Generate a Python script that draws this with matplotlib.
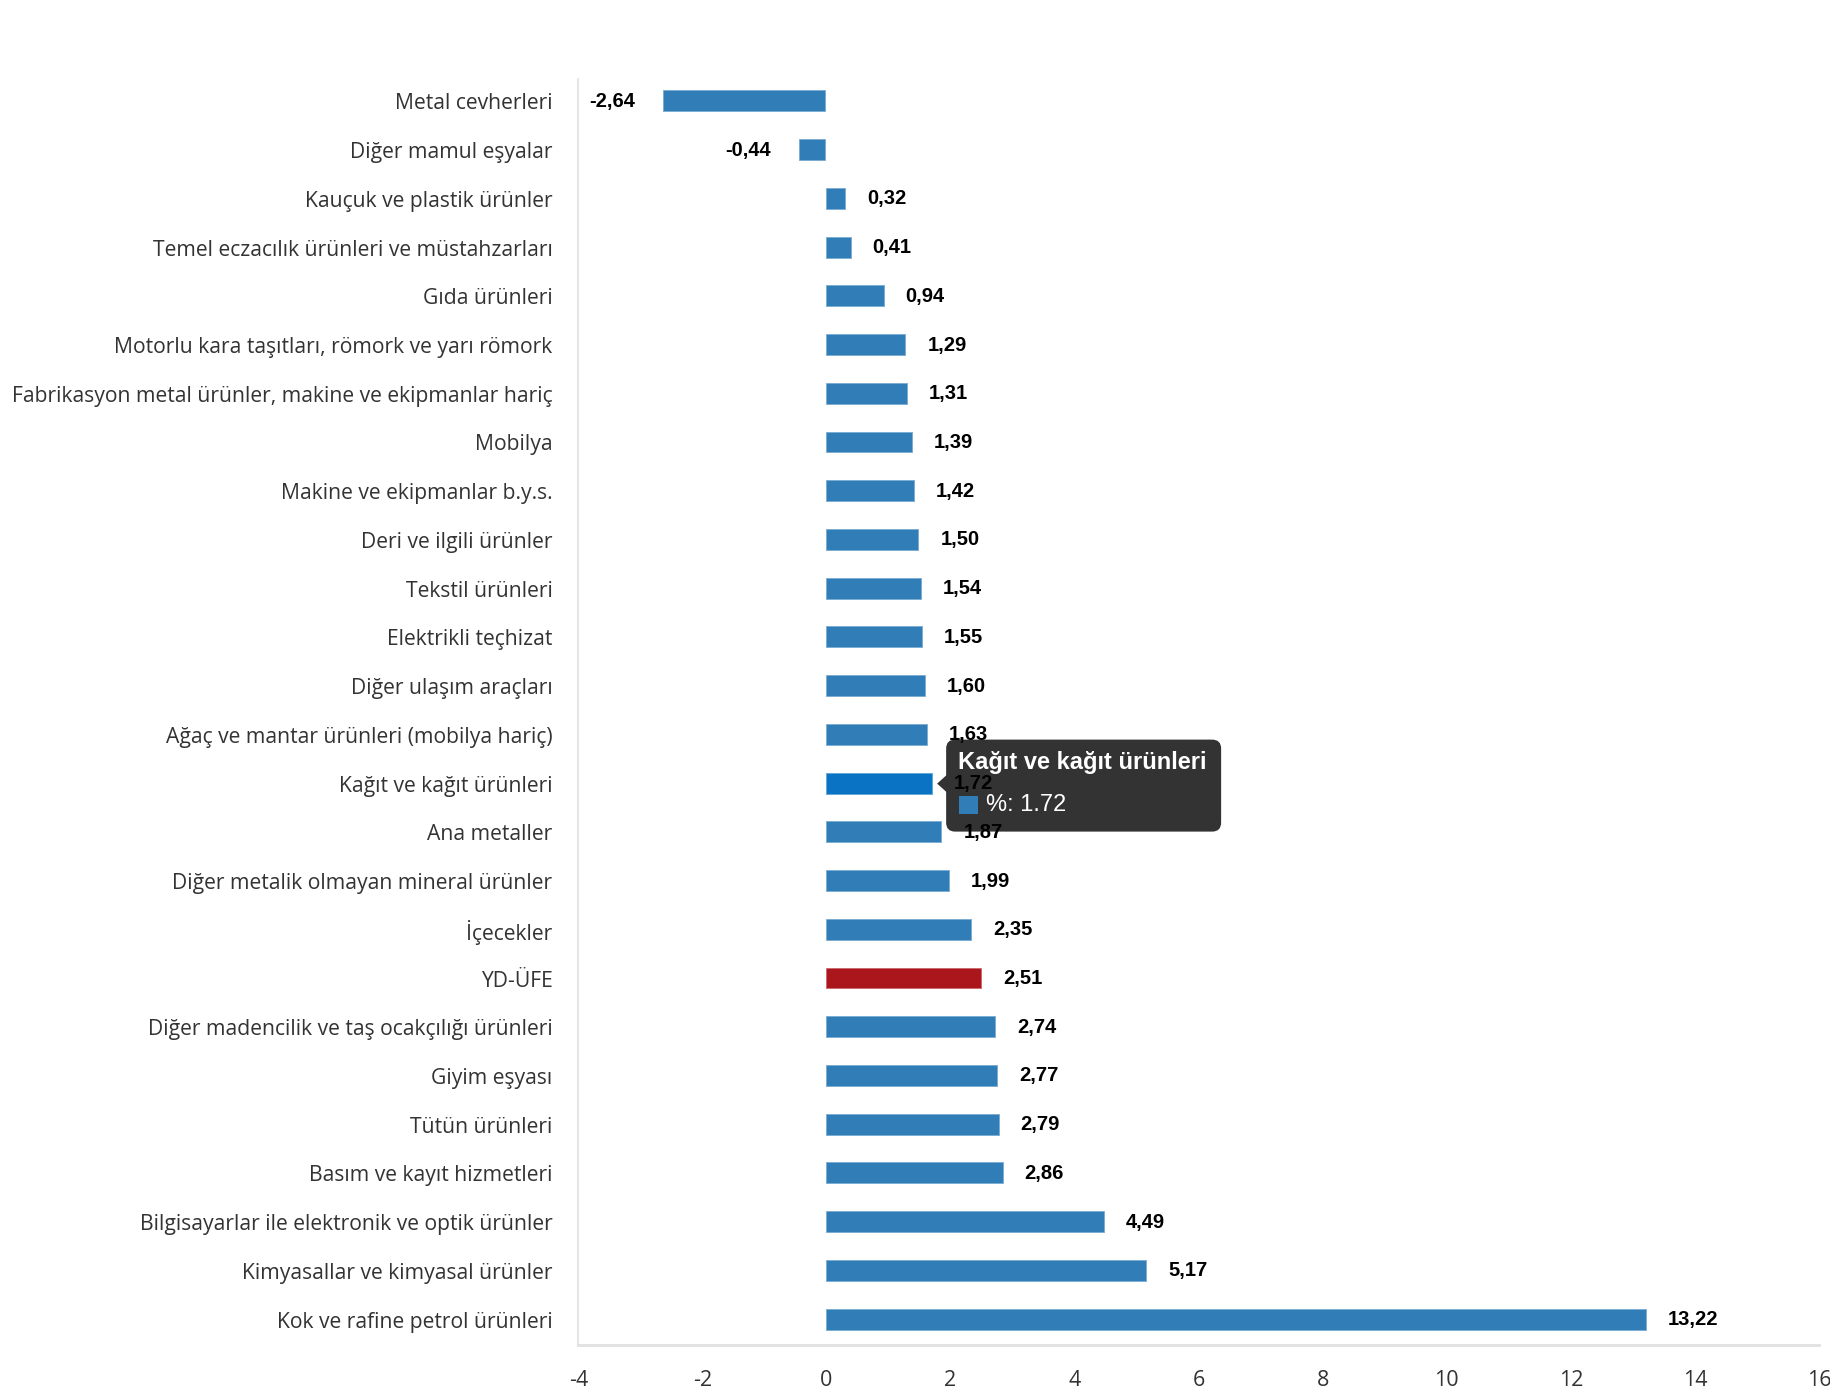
import matplotlib.pyplot as plt
import matplotlib.transforms as mtransforms
from matplotlib.patches import FancyBboxPatch, Polygon, Rectangle

# ===== Data (%) =====
categories = [
    "Metal cevherleri", "Diğer mamul eşyalar", "Kauçuk ve plastik ürünler",
    "Temel eczacılık ürünleri ve müstahzarları", "Gıda ürünleri",
    "Motorlu kara taşıtları, römork ve yarı römork",
    "Fabrikasyon metal ürünler, makine ve ekipmanlar hariç", "Mobilya",
    "Makine ve ekipmanlar b.y.s.", "Deri ve ilgili ürünler", "Tekstil ürünleri",
    "Elektrikli teçhizat", "Diğer ulaşım araçları",
    "Ağaç ve mantar ürünleri (mobilya hariç)", "Kağıt ve kağıt ürünleri",
    "Ana metaller", "Diğer metalik olmayan mineral ürünler", "İçecekler",
    "YD-ÜFE", "Diğer madencilik ve taş ocakçılığı ürünleri", "Giyim eşyası",
    "Tütün ürünleri", "Basım ve kayıt hizmetleri",
    "Bilgisayarlar ile elektronik ve optik ürünler",
    "Kimyasallar ve kimyasal ürünler", "Kok ve rafine petrol ürünleri",
]
values = [-2.64, -0.44, 0.32, 0.41, 0.94, 1.29, 1.31, 1.39, 1.42, 1.50, 1.54,
          1.55, 1.60, 1.63, 1.72, 1.87, 1.99, 2.35, 2.51, 2.74, 2.77, 2.79,
          2.86, 4.49, 5.17, 13.22]
x_ticks = [-4, -2, 0, 2, 4, 6, 8, 10, 12, 14, 16]

total_label = "YD-ÜFE"
hover_label = "Kağıt ve kağıt ürünleri"

# ===== Styling =====
blue = "#317db8"
red = "#ab151c"
hover_blue = "#0b73c3"
label_font = "Open Sans"
value_font = "Liberation Sans"

fig = plt.figure(figsize=(18.3, 14), dpi=100)
ax = fig.add_axes([0.316, 0.0393, 0.678, 0.9043])

colors = []
for c in categories:
    if c == total_label:
        colors.append(red)
    elif c == hover_label:
        colors.append(hover_blue)
    else:
        colors.append(blue)

y = list(range(len(categories)))
ax.barh(y, values, height=0.45, color=colors, edgecolor=(1, 1, 1, 0.45),
        linewidth=1.2, zorder=2)

ax.set_xlim(-4, 16)
ax.set_ylim(len(categories) - 0.48, -0.46)
ax.set_xticks(x_ticks)
ax.set_xticklabels([str(t) for t in x_ticks], fontname=label_font,
                   fontsize=15.5, color="#333333")
ax.set_yticks(y)
ax.set_yticklabels(categories, fontname=label_font, fontsize=15.2,
                   color="#333333")
ax.tick_params(axis="y", length=0, pad=18.5)
ax.tick_params(axis="x", length=0, pad=18)

for side in ["top", "right"]:
    ax.spines[side].set_visible(False)
ax.spines["left"].set_color("#e6e6e6")
ax.spines["bottom"].set_color("#e0e0e0")
ax.spines["left"].set_linewidth(1.5)
ax.spines["bottom"].set_linewidth(2)

# ===== Value labels =====
for yi, v in zip(y, values):
    txt = f"{v:.2f}".replace(".", ",")
    if v >= 0:
        ax.annotate(txt, (v, yi), xytext=(15, 0), textcoords="offset points",
                    ha="left", va="center", fontsize=14.5, fontweight="bold",
                    fontname=value_font, color="black", zorder=4,
                    annotation_clip=False)
    else:
        ax.annotate(txt, (v, yi), xytext=(-20, 0), textcoords="offset points",
                    ha="right", va="center", fontsize=14.5, fontweight="bold",
                    fontname=value_font, color="black", zorder=4,
                    annotation_clip=False)

# ===== Tooltip (drawn under the value labels, as in the original) =====
hi = categories.index(hover_label)
hv = values[hi]
px, py = ax.transData.transform((hv, hi))
pix = mtransforms.Affine2D().translate(px, py)

bx0, bw, bh = 13, 275, 92
ax.add_patch(FancyBboxPatch((bx0, -bh / 2 - 2), bw, bh,
                            boxstyle="round,pad=0,rounding_size=9",
                            facecolor="#333333", edgecolor="none",
                            transform=pix, zorder=3, clip_on=False))
ax.add_patch(Polygon([(4, 0), (bx0 + 1, 9), (bx0 + 1, -9)], closed=True,
                     facecolor="#333333", edgecolor="none", transform=pix,
                     zorder=3, clip_on=False))
ax.add_patch(Rectangle((bx0 + 13, -30), 19, 18, facecolor=blue,
                       edgecolor="none", transform=pix, zorder=3.5,
                       clip_on=False))
ax.text(bx0 + 12, 21, hover_label, transform=pix, ha="left", va="center",
        fontsize=17, fontweight="bold", fontname=value_font,
        color="white", zorder=3.5, clip_on=False)
ax.text(bx0 + 40, -21, f"%: {hv}", transform=pix, ha="left", va="center",
        fontsize=17, fontname=value_font, color="white", zorder=3.5,
        clip_on=False)

fig.savefig("out.png", dpi=100)
